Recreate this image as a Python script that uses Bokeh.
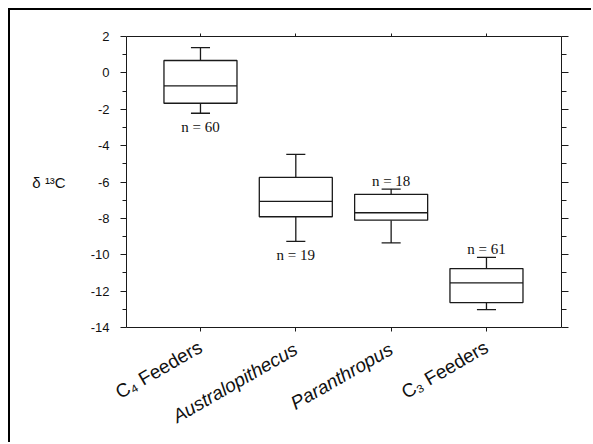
import math
from bokeh.plotting import figure
from bokeh.models import LinearAxis, FixedTicker, Range1d, Label, ColumnDataSource
from bokeh.embed import file_html
from bokeh.resources import INLINE

# ---- data ----
categories = ["C\u2084 Feeders", "Australopithecus", "Paranthropus", "C\u2083 Feeders"]
cat_italic = [False, True, True, False]
whisker_low = [-2.22, -9.27, -9.35, -13.02]
q1 = [-1.67, -7.91, -8.10, -12.63]
median = [-0.72, -7.07, -7.69, -11.55]
q3 = [0.68, -5.75, -6.68, -10.76]
whisker_high = [1.39, -4.48, -6.39, -10.14]
n_values = [60, 19, 18, 61]
n_side = ["below", "below", "above", "above"]
y_ticks = [-14, -12, -10, -8, -6, -4, -2, 0, 2]
y_minor = [-13, -11, -9, -7, -5, -3, -1, 1]
y_title = "\u03b4 \u00b9\u00b3C"

xs = [i + 1 for i in range(len(categories))]
Y0, Y1 = -14, 2
BOX_W = 0.766
CAP_W = 0.2
INK = "#1a1a1a"
LABEL_FONT = "19px"

p = figure(width=583, height=434, output_backend="svg", toolbar_location=None,
           x_range=Range1d(0.224, 4.787), y_range=Range1d(Y0, Y1),
           x_axis_location=None, y_axis_location=None,
           min_border_left=116, min_border_right=32, min_border_top=26, min_border_bottom=117)
p.styles = {"border-left": "2px solid #000", "border-top": "2px solid #000",
            "margin-left": "8px", "margin-top": "8px"}
p.outline_line_color = None
p.xgrid.visible = False
p.ygrid.visible = False

blank_y = {t: "" for t in y_ticks}
blank_x = {t: "" for t in xs}

left = LinearAxis(ticker=FixedTicker(ticks=y_ticks, minor_ticks=y_minor),
                  axis_line_color=INK, major_tick_line_color=INK, minor_tick_line_color=INK,
                  major_tick_in=0, major_tick_out=6, minor_tick_in=0, minor_tick_out=4,
                  major_label_overrides={t: str(t) for t in y_ticks},
                  major_label_text_font="Liberation Sans", major_label_text_font_size="13px",
                  major_label_text_color="#111", major_label_standoff=11,
                  axis_label=y_title, axis_label_orientation="horizontal",
                  axis_label_text_font="Liberation Sans", axis_label_text_font_size="15px",
                  axis_label_text_font_style="normal", axis_label_text_color="#111",
                  axis_label_standoff=22)
p.add_layout(left, "left")

right = LinearAxis(ticker=FixedTicker(ticks=y_ticks, minor_ticks=y_minor),
                   axis_line_color=INK, major_tick_line_color=INK, minor_tick_line_color=INK,
                   major_tick_in=0, major_tick_out=7, minor_tick_in=0, minor_tick_out=5,
                   major_label_overrides=blank_y)
p.add_layout(right, "right")

top = LinearAxis(ticker=FixedTicker(ticks=xs, minor_ticks=[]), axis_line_color=INK,
                 major_tick_line_color=INK, major_tick_in=0, major_tick_out=3,
                 minor_tick_line_color=None, major_label_overrides=blank_x)
p.add_layout(top, "above")

normal_labels = {x: (c if not it else "") for x, c, it in zip(xs, categories, cat_italic)}
italic_labels = {x: c for x, c, it in zip(xs, categories, cat_italic) if it}
bottom = LinearAxis(ticker=FixedTicker(ticks=xs, minor_ticks=[]), axis_line_color=INK,
                    major_tick_line_color=INK, major_tick_in=0, major_tick_out=4,
                    minor_tick_line_color=None, major_label_overrides=normal_labels,
                    major_label_orientation=math.pi / 6,
                    major_label_text_font="Liberation Sans", major_label_text_font_size=LABEL_FONT,
                    major_label_text_color="#111", major_label_standoff=14)
p.add_layout(bottom, "below")
bottom2 = LinearAxis(ticker=FixedTicker(ticks=list(italic_labels.keys()), minor_ticks=[]),
                     axis_line_color=None, major_tick_line_color=None, minor_tick_line_color=None,
                     major_tick_in=0, major_tick_out=0, major_label_overrides=italic_labels,
                     major_label_orientation=math.pi / 6,
                     major_label_text_font="Liberation Sans", major_label_text_font_size=LABEL_FONT,
                     major_label_text_font_style="italic", major_label_text_color="#111",
                     major_label_standoff=-67)
p.add_layout(bottom2, "below")

src = ColumnDataSource(dict(
    x=xs, lo=whisker_low, q1=q1, med=median, q3=q3, hi=whisker_high,
    left=[x - BOX_W / 2 for x in xs], right=[x + BOX_W / 2 for x in xs],
    cl=[x - CAP_W / 2 for x in xs], cr=[x + CAP_W / 2 for x in xs],
))
LW = 1.3
p.segment(x0="x", y0="q3", x1="x", y1="hi", source=src, line_color=INK, line_width=LW)
p.segment(x0="x", y0="q1", x1="x", y1="lo", source=src, line_color=INK, line_width=LW)
p.segment(x0="cl", y0="hi", x1="cr", y1="hi", source=src, line_color=INK, line_width=LW)
p.segment(x0="cl", y0="lo", x1="cr", y1="lo", source=src, line_color=INK, line_width=LW)
p.quad(left="left", right="right", bottom="q1", top="q3", source=src,
       fill_color="white", line_color=INK, line_width=LW)
p.segment(x0="left", y0="med", x1="right", y1="med", source=src, line_color=INK, line_width=LW)

for x, n, side, lo, hi in zip(xs, n_values, n_side, whisker_low, whisker_high):
    if side == "below":
        lab = Label(x=x, y=lo, y_offset=-6, text=f"n = {n}", text_align="center",
                    text_baseline="top")
    else:
        lab = Label(x=x, y=hi, y_offset=8, text=f"n = {n}", text_align="center",
                    text_baseline="alphabetic")
    lab.text_font = "Liberation Serif"
    lab.text_font_size = "15px"
    lab.text_color = "#111"
    p.add_layout(lab)

open("out.html", "w").write(file_html(p, INLINE))
